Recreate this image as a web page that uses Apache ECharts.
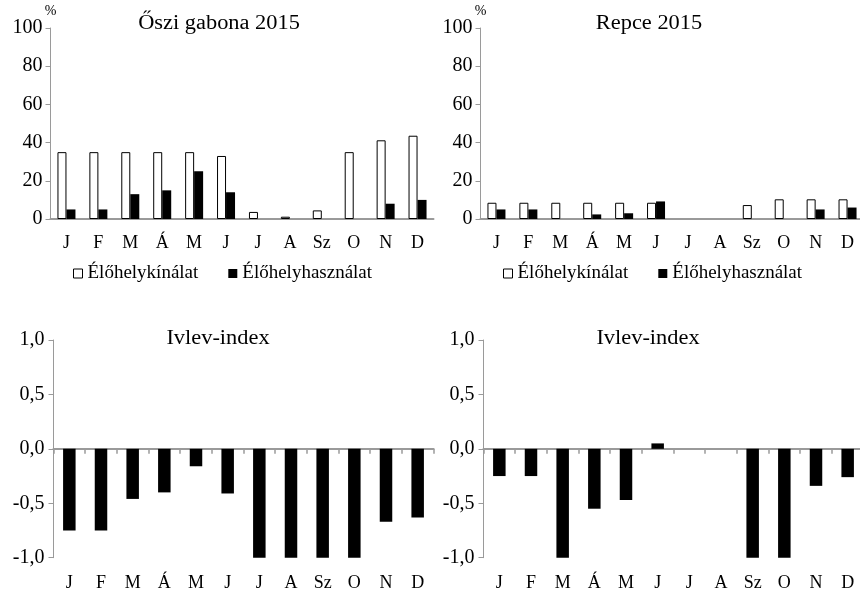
<!DOCTYPE html>
<html>
<head>
<meta charset="utf-8">
<script src="https://cdn.jsdelivr.net/npm/echarts@6/dist/echarts.min.js"></script>
<style>
  html, body { margin: 0; padding: 0; background: #fff; }
  #chart { width: 860px; height: 592px; }
</style>
</head>
<body>
<div id="chart"></div>
<script>
// Month abbreviations (Hungarian)
const months = ['J', 'F', 'M', 'Á', 'M', 'J', 'J', 'A', 'Sz', 'O', 'N', 'D'];

// Habitat availability / use, % (winter cereal 2015)
const gabonaKinalat = [35, 35, 35, 35, 35, 33, 3.7, 1.2, 4.5, 35, 41.2, 43.6];
const gabonaHasznalat = [5, 5, 13, 15, 25, 14, 0, 0, 0, 0, 8, 10];

// Habitat availability / use, % (rapeseed 2015)
const repceKinalat = [8.5, 8.5, 8.5, 8.5, 8.5, 8.5, null, null, 7.3, 10.3, 10.3, 10.3];
const repceHasznalat = [5, 5, 0, 2.4, 3, 9.2, null, null, 0, 0, 5, 6];

// Ivlev electivity index
const gabonaIvlev = [-0.75, -0.75, -0.46, -0.40, -0.16, -0.41, -1, -1, -1, -1, -0.67, -0.63];
const repceIvlev = [-0.25, -0.25, -1, -0.55, -0.47, 0.05, null, null, -1, -1, -0.34, -0.26];

const seriesNames = ['Élőhelykínálat', 'Élőhelyhasználat'];
const titles = ['Őszi gabona 2015', 'Repce 2015', 'Ivlev-index', 'Ivlev-index'];

const FONT = 'Liberation Serif';
const AXIS_GREY = '#9a9a9a';
const TEXT = '#000';

const chart = echarts.init(document.getElementById('chart'), null, { renderer: 'canvas' });

function pctYAxis(gridIndex) {
  return {
    type: 'value', gridIndex: gridIndex, min: 0, max: 100, interval: 20,
    name: '%', nameLocation: 'end', nameGap: 7,
    nameTextStyle: { fontFamily: FONT, fontSize: 14, color: TEXT, align: 'center' },
    axisLine: { show: true, lineStyle: { color: AXIS_GREY, width: 1 } },
    axisTick: { show: true, length: 5, lineStyle: { color: AXIS_GREY } },
    splitLine: { show: false },
    axisLabel: { fontFamily: FONT, fontSize: 20, color: TEXT, margin: 8 }
  };
}

function ivlevYAxis(gridIndex) {
  return {
    type: 'value', gridIndex: gridIndex, min: -1, max: 1, interval: 0.5,
    axisLine: { show: true, lineStyle: { color: AXIS_GREY, width: 1 } },
    axisTick: { show: true, length: 5, lineStyle: { color: AXIS_GREY } },
    splitLine: { show: false },
    axisLabel: {
      fontFamily: FONT, fontSize: 20, color: TEXT, margin: 9,
      formatter: v => v.toFixed(1).replace('.', ',')
    }
  };
}

function pctXAxis(gridIndex) {
  return {
    type: 'category', gridIndex: gridIndex, data: months,
    axisLine: { show: true, lineStyle: { color: AXIS_GREY, width: 2 } },
    axisTick: { show: false },
    axisLabel: { fontFamily: FONT, fontSize: 18, color: TEXT, margin: 15, interval: 0 }
  };
}

function ivlevXAxis(gridIndex) {
  // axis line sits on zero; month labels stay along the bottom of the plot
  return {
    type: 'category', gridIndex: gridIndex, data: months,
    axisLine: { show: true, onZero: true, lineStyle: { color: AXIS_GREY, width: 2 } },
    axisTick: { show: true, interval: 0, length: 5, lineStyle: { color: AXIS_GREY, width: 1.5 } },
    axisLabel: { fontFamily: FONT, fontSize: 18, color: TEXT, margin: 17, interval: 0 }
  };
}

const whiteBar = { color: '#fff', borderColor: '#000', borderWidth: 1 };
const blackBar = { color: '#000' };

function legendFor(left) {
  return {
    left: left, top: 264, padding: 0,
    itemWidth: 9, itemHeight: 9, itemGap: 30, icon: 'rect',
    textStyle: { fontFamily: FONT, fontSize: 19, color: TEXT },
    data: [
      { name: seriesNames[0], itemStyle: { color: '#fff', borderColor: '#000', borderWidth: 1 } },
      { name: seriesNames[1], itemStyle: { color: '#000', borderWidth: 0 } }
    ],
    selectedMode: false
  };
}

function titleText(x, y, text) {
  return {
    type: 'text', x: x, y: y, scaleX: 1.12,
    style: { text: text, font: '20px "' + FONT + '"', fill: TEXT, align: 'center', verticalAlign: 'middle' }
  };
}

const gridBase = { outerBoundsMode: 'none', containLabel: false };

const option = {
  animation: false,
  backgroundColor: '#fff',
  grid: [
    Object.assign({ left: 50.5, top: 28, width: 383, height: 191 }, gridBase),
    Object.assign({ left: 480.5, top: 28, width: 383, height: 191 }, gridBase),
    Object.assign({ left: 53.5, top: 340, width: 380, height: 217.7 }, gridBase),
    Object.assign({ left: 483.5, top: 340, width: 380, height: 217.7 }, gridBase)
  ],
  xAxis: [pctXAxis(0), pctXAxis(1), ivlevXAxis(2), ivlevXAxis(3)],
  yAxis: [pctYAxis(0), pctYAxis(1), ivlevYAxis(2), ivlevYAxis(3)],
  legend: [legendFor(73), legendFor(503)],
  graphic: [
    titleText(219, 24, titles[0]),
    titleText(649, 24, titles[1]),
    titleText(218, 339, titles[2]),
    titleText(648, 339, titles[3])
  ],
  series: [
    { name: seriesNames[0], type: 'bar', xAxisIndex: 0, yAxisIndex: 0, data: gabonaKinalat,
      barWidth: 9, barGap: '0%', itemStyle: whiteBar },
    { name: seriesNames[1], type: 'bar', xAxisIndex: 0, yAxisIndex: 0, data: gabonaHasznalat,
      barWidth: 9, barGap: '0%', itemStyle: blackBar },
    { name: seriesNames[0], type: 'bar', xAxisIndex: 1, yAxisIndex: 1, data: repceKinalat,
      barWidth: 9, barGap: '0%', itemStyle: whiteBar },
    { name: seriesNames[1], type: 'bar', xAxisIndex: 1, yAxisIndex: 1, data: repceHasznalat,
      barWidth: 9, barGap: '0%', itemStyle: blackBar },
    { name: 'Ivlev-index (gabona)', type: 'bar', xAxisIndex: 2, yAxisIndex: 2, data: gabonaIvlev,
      barWidth: 12.5, itemStyle: blackBar },
    { name: 'Ivlev-index (repce)', type: 'bar', xAxisIndex: 3, yAxisIndex: 3, data: repceIvlev,
      barWidth: 12.5, itemStyle: blackBar }
  ]
};

chart.setOption(option);
</script>
</body>
</html>
